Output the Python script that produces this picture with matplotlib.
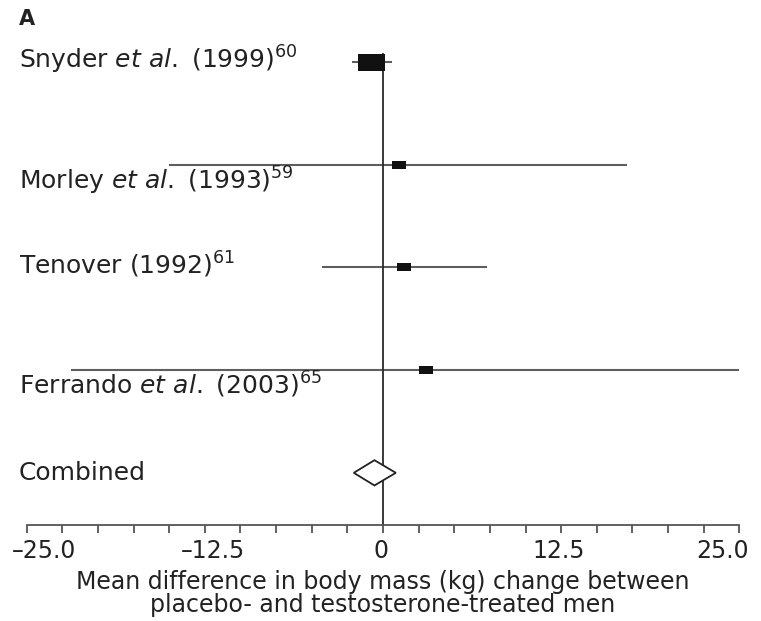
import numpy as np
import matplotlib.pyplot as plt
from matplotlib.patches import Rectangle, Polygon
from matplotlib.transforms import blended_transform_factory, offset_copy, ScaledTranslation

# study labels (mathtext for italic "et al." and reference superscripts)
labels = [
    r"Snyder $\mathit{et\ al.}$ (1999)$^{60}$",
    r"Morley $\mathit{et\ al.}$ (1993)$^{59}$",
    r"Tenover (1992)$^{61}$",
    r"Ferrando $\mathit{et\ al.}$ (2003)$^{65}$",
]
mean_diff = [-0.8, 1.1, 1.5, 3.0]
ci_low = [-2.2, -15.0, -4.3, -21.9]
ci_high = [0.6, 17.1, 7.3, 25.0]

combined_label = "Combined"
combined_mean = -0.6
combined_low = -2.05
combined_high = 0.9

tick_pos = [-25.0, -12.5, 0.0, 12.5, 25.0]
tick_text = ["\u201325.0", "\u201312.5", "0", "12.5", "25.0"]
xlabel = ("Mean difference in body mass (kg) change between\n"
          "placebo- and testosterone-treated men")

# styling
txt = "#222222"
box_w = [1.9, 0.98, 0.98, 0.98]
box_h = [0.166, 0.078, 0.078, 0.078]
label_below = [False, True, False, True]
tick_shift_px = [17, 8, -1.5, -2, -17]   # outer labels sit inside the axis ends

plt.rcParams["font.family"] = ["DejaVu Sans"]
plt.rcParams["mathtext.fontset"] = "dejavusans"

fig = plt.figure(figsize=(7.61, 6.21), dpi=100)
ax = fig.add_axes([26.7 / 761, 96 / 621, 712.6 / 761, 525 / 621])
ax.set_xlim(-25, 25)
ax.set_ylim(4.508, -0.604)

# zero line
ax.plot([0, 0], [-0.08, 4.508], color="#2a2a2a", lw=1.3, zorder=2, clip_on=False)

rows = np.arange(len(labels))
for i, y in enumerate(rows):
    ax.plot([ci_low[i], ci_high[i]], [y, y], color="#5e5e5e", lw=1.5,
            zorder=1, clip_on=False, solid_capstyle="butt")
    ax.add_patch(Rectangle((mean_diff[i] - box_w[i] / 2, y - box_h[i] / 2),
                           box_w[i], box_h[i], facecolor="#111111",
                           edgecolor="none", zorder=3))

# combined estimate
yc = len(labels)
dh = 0.123
ax.add_patch(Polygon([(combined_low, yc), (combined_mean, yc - dh),
                      (combined_high, yc), (combined_mean, yc + dh)],
                     closed=True, facecolor="white", edgecolor="#222222",
                     lw=1.3, zorder=3))

# row labels on the left
trans = blended_transform_factory(fig.transFigure, ax.transData)
for i, lab in enumerate(labels + [combined_label]):
    drop = 17.6 if (i < len(labels) and label_below[i]) else 5.0
    t = offset_copy(trans, fig=fig, x=0, y=-drop, units="points")
    ax.text(19 / 761, i, lab, transform=t, ha="left", va="baseline",
            fontsize=18, color=txt)

fig.text(19 / 761, 1 - 19 / 621, "A", fontsize=15, fontweight="bold",
         color=txt, ha="left", va="center")

# axis
for s in ["top", "right", "left"]:
    ax.spines[s].set_visible(False)
ax.spines["bottom"].set_color("#555555")
ax.spines["bottom"].set_linewidth(1.3)
ax.set_yticks([])
ax.set_xticks(tick_pos)
ax.set_xticklabels(tick_text)
ax.set_xticks(np.arange(-25, 25.1, 2.5), minor=True)
ax.tick_params(axis="x", which="both", direction="out", length=6, width=1.3,
               color="#555555")
ax.tick_params(axis="x", which="major", labelsize=17, labelcolor=txt, pad=4)
for lbl, dx in zip(ax.get_xticklabels(), tick_shift_px):
    lbl.set_transform(lbl.get_transform() + ScaledTranslation(dx / 100, 0, fig.dpi_scale_trans))
ax.set_xlabel(xlabel, fontsize=17, color=txt, labelpad=5, linespacing=0.95)

fig.savefig("out.png", dpi=100, facecolor="white")
